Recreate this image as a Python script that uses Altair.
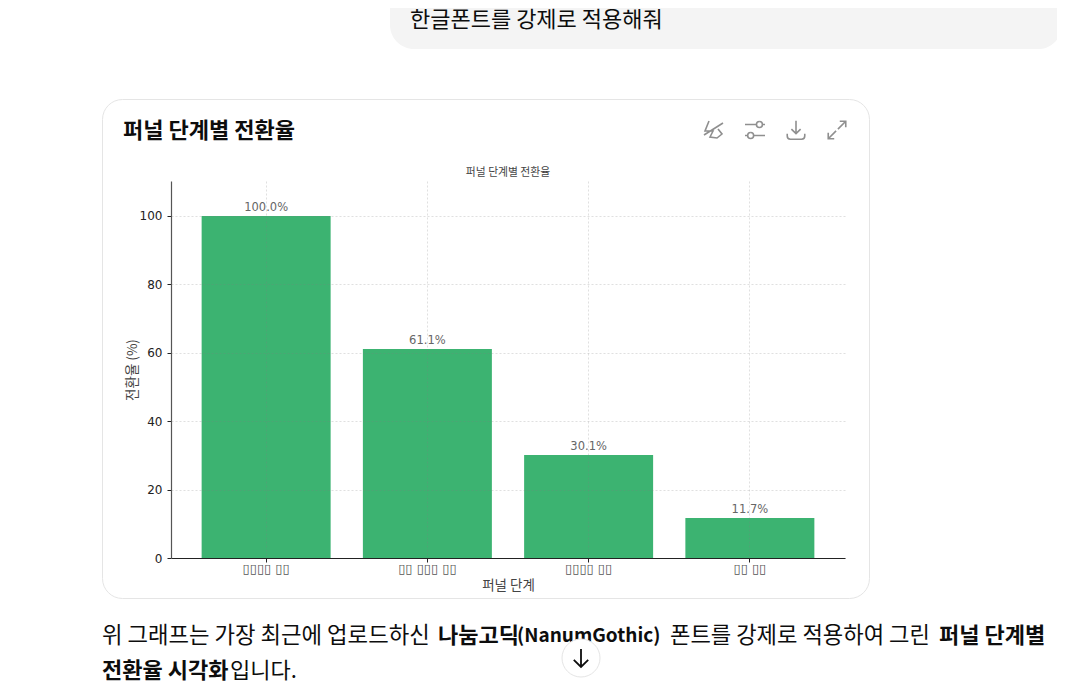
import altair as alt
import pandas as pd

stages = ["▯▯▯▯ ▯▯", "▯▯ ▯▯▯ ▯▯", "▯▯▯▯ ▯▯", "▯▯ ▯▯"]
stage_ids = ["a", "b", "c", "d"]
rates = [100.0, 61.1, 30.1, 11.7]
labels = ["100.0%", "61.1%", "30.1%", "11.7%"]
chart_title = "퍼널 단계별 전환율"
x_title = "퍼널 단계"
y_title = "전환율 (%)"

KR = "Noto Sans CJK KR"
OX, OY = 171, 181  # plot origin on the page
W, H = 674, 377


def px(x):
    return alt.value(x - OX)


def py(y):
    return alt.value(y - OY)


dummy = alt.Data(values=[{"k": 1}])
df = pd.DataFrame({"id": stage_ids, "stage": stages, "rate": rates, "label": labels})


def page_text(text, x, y, size, weight="normal", color="#0d0d0d", font=KR, align="left"):
    return alt.Chart(dummy).mark_text(
        text=text, font=font, fontSize=size, fontWeight=weight, color=color,
        align=align, baseline="middle",
    ).encode(x=px(x), y=py(y))


def box(x0, x1, y0, y1, fill, stroke=None, radius=0):
    kw = {"fill": fill, "cornerRadius": radius}
    if stroke:
        kw.update(stroke=stroke, strokeWidth=1)
    return alt.Chart(dummy).mark_rect(**kw).encode(
        x=px(x0), x2=px(x1), y=py(y0), y2=py(y1)
    )


def icon(path, x, y, size=400, width=1.6, color="#8f8f8f"):
    return alt.Chart(dummy).mark_point(
        shape=path, size=size, filled=False, stroke=color, strokeWidth=width, opacity=1
    ).encode(x=px(x), y=py(y))


x_enc = alt.X(
    "id:N", sort=stage_ids,
    scale=alt.Scale(paddingInner=0.2, paddingOuter=0.19),
    axis=alt.Axis(
        title=x_title, titleFont=KR, titleFontSize=13.5, titleFontWeight="normal", titleColor="#444",
        titlePadding=3,
        labelExpr="{'a':'%s','b':'%s','c':'%s','d':'%s'}[datum.value]" % tuple(stages),
        labelAngle=0, labelFont="DejaVu Sans", labelFontSize=13, labelColor="#555", labelPadding=0,
        tickColor="#222", tickSize=4, domainColor="#222", domainWidth=1.2,
        grid=True, gridColor="#808080", gridOpacity=0.35, gridDash=[2, 2], gridWidth=0.7, zindex=1,
    ),
)
y_enc = alt.Y(
    "rate:Q",
    scale=alt.Scale(domain=[0, 110.2], nice=False),
    axis=alt.Axis(
        title=y_title, titleFont=KR, titleFontSize=13.5, titleFontWeight="normal", titleColor="#444",
        titlePadding=0,
        values=[0, 20, 40, 60, 80, 100], labelFont="DejaVu Sans", labelFontSize=12, labelColor="#222",
        labelPadding=5, tickColor="#222", tickSize=4, domainColor="#555", domainWidth=1.2,
        grid=True, gridColor="#808080", gridOpacity=0.35, gridDash=[2, 2], gridWidth=0.7, zindex=1,
    ),
)

bars = alt.Chart(df).mark_bar(color="#3CB371").encode(x=x_enc, y=y_enc)
bar_labels = alt.Chart(df).mark_text(
    baseline="bottom", dy=-3, font="DejaVu Sans", fontSize=11.5, color="#666"
).encode(x=alt.X("id:N", sort=stage_ids), y=alt.Y("rate:Q"), text="label:N")

bg = [
    box(390, 1062, -20, 49, "#f4f4f4", radius=24),
    box(102.5, 869.5, 99.5, 598.5, "#ffffff", "#e5e5e5", 20),
]
texts = [
    page_text("한글폰트를 강제로 적용해줘", 410, 20, 22),
    page_text(chart_title, 123, 131, 22, "bold"),
    page_text(chart_title, 508, 173, 10.8, color="#444", align="center"),
    page_text("위 그래프는 가장 최근에 업로드하신", 102, 636, 22.3),
    page_text("나눔고딕", 438, 636, 22, "bold"),
    page_text("(NanumGothic)", 517, 636, 19, "bold"),
    page_text("폰트를 강제로 적용하여 그린", 670, 636, 22.2),
    page_text("퍼널 단계별", 939, 636, 22, "bold"),
    page_text("전환율 시각화", 102, 671, 22, "bold"),
    page_text("입니다.", 230, 671, 22),
]
icons = [
    icon("M-0.5,-0.9 L-0.9,0.1 L-0.1,0.1 L-0.4,0.7 L0.3,0.8 L0.8,0.4 L0.4,-0.1 M-1,0.5 L0.9,-0.7", 714, 130),
    icon("M-1,-0.55 L0.15,-0.55 M0.75,-0.55 L1,-0.55 M0.45,-0.85 A0.3,0.3 0 1 1 0.44,-0.85 M-1,0.55 L-0.7,0.55 M-0.15,0.55 L1,0.55 M-0.43,0.25 A0.3,0.3 0 1 1 -0.44,0.25", 755, 130),
    icon("M0,-1 L0,0.35 M-0.5,-0.1 L0,0.4 L0.5,-0.1 M-0.95,0.4 L-0.95,0.65 Q-0.95,1 -0.6,1 L0.6,1 Q0.95,1 0.95,0.65 L0.95,0.4", 796, 130, size=340),
    icon("M0.1,-0.1 L0.95,-0.95 M0.3,-0.95 L0.95,-0.95 L0.95,-0.3 M-0.1,0.1 L-0.95,0.95 M-0.95,0.3 L-0.95,0.95 L-0.3,0.95", 837, 130, size=340),
]
scroll = [
    alt.Chart(dummy).mark_point(shape="circle", size=1444, filled=True, fill="#ffffff", stroke="#e5e5e5", strokeWidth=1, opacity=1).encode(x=px(581), y=py(658)),
    icon("M0,-1 L0,1 M-0.8,0.2 L0,1 L0.8,0.2", 581, 658, size=324, width=1.8, color="#0d0d0d"),
]

chart = alt.layer(*bg, bars, bar_labels, *texts, *icons, *scroll).properties(
    width=W, height=H,
    autosize=alt.AutoSizeParams(type="none"),
    padding={"left": OX - 8, "top": OY - 8, "right": 1049 - (OX - 8) - W, "bottom": 678 - (OY - 8) - H},
    background="#ffffff",
).configure_view(stroke=None).configure_axis(labelOverlap=False)

chart.save("out.html", embed_options={"renderer": "svg", "actions": False})
